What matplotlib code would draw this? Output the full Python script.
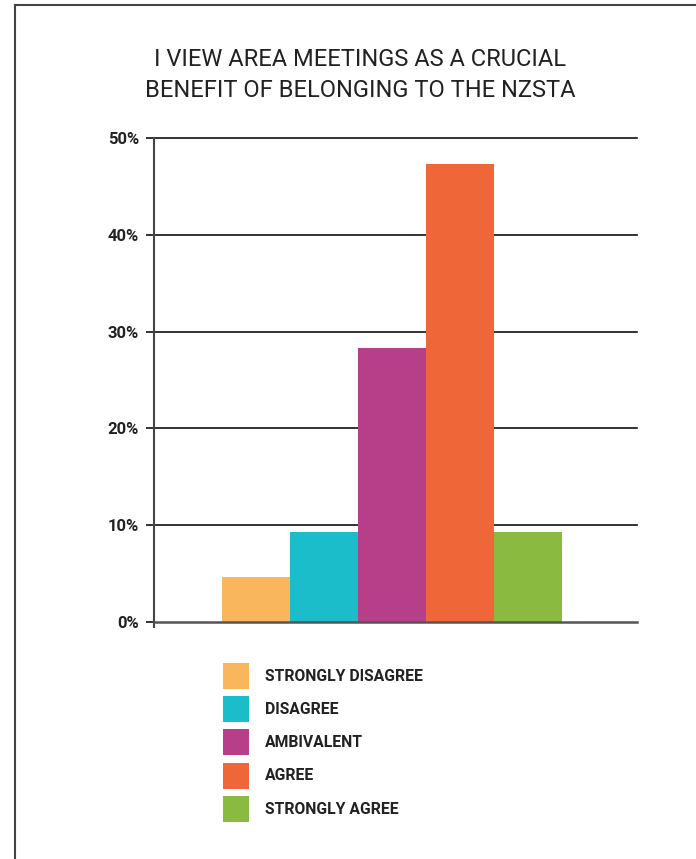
import matplotlib
matplotlib.use("Agg")
import matplotlib.pyplot as plt
from matplotlib.lines import Line2D
from matplotlib.ticker import FuncFormatter

categories = ["STRONGLY DISAGREE", "DISAGREE", "AMBIVALENT", "AGREE", "STRONGLY AGREE"]
values = [4.6, 9.3, 28.3, 47.3, 9.3]
colors = ["#F9B65D", "#1CBDCB", "#B73F8A", "#EF6738", "#8ABA3F"]
yticks = [0, 10, 20, 30, 40, 50]
title = "I VIEW AREA MEETINGS AS A CRUCIAL\nBENEFIT OF BELONGING TO THE NZSTA"

plt.rcParams['font.family'] = ['Roboto', 'DejaVu Sans']

fig = plt.figure(figsize=(6.96, 8.59), dpi=100)
ax = fig.add_axes([0.2217, 0.2695, 0.9148 - 0.2217, 0.839 - 0.2695])

xs = list(range(len(categories)))
bars = ax.bar(xs, values, width=1.0, color=colors, linewidth=0, zorder=3)

ax.set_xlim(-1.5, 5.6)
ax.set_ylim(-0.6, 50)

for t in yticks[1:]:
    ax.axhline(t, color="#111111", linewidth=1.2, zorder=2, clip_on=False)
ax.axhline(0, color="#555555", linewidth=1.8, zorder=4, clip_on=False)

for s in ["top", "right", "bottom"]:
    ax.spines[s].set_visible(False)
ax.spines["left"].set_color("#444444")
ax.spines["left"].set_linewidth(1.5)

ax.set_xticks([])
ax.set_yticks(yticks)
ax.yaxis.set_major_formatter(FuncFormatter(lambda v, p: f"{int(v)}%"))
ax.tick_params(axis="y", length=6, width=1.2, color="#111111", pad=5)
for lab in ax.get_yticklabels():
    lab.set_fontweight("bold")
    lab.set_fontsize(12)
    lab.set_color("#222222")

fig.text(0.517, 0.913, title, ha="center", va="center", fontsize=17,
         color="#222222", linespacing=1.45)

leg = fig.legend(bars.patches, categories, loc="upper left",
                 bbox_to_anchor=(222.7 / 696, 1 - 662.7 / 859),
                 frameon=False, borderpad=0, borderaxespad=0,
                 fontsize=11.3, handlelength=1.69, handleheight=2.17,
                 handletextpad=1.02, labelspacing=0.465)
for t in leg.get_texts():
    t.set_fontweight("bold")
    t.set_color("#222222")

# outer frame lines (left and top)
fig.add_artist(Line2D([15 / 696, 15 / 696], [0, 1 - 5 / 859], transform=fig.transFigure,
                      color="#444444", linewidth=1.5))
fig.add_artist(Line2D([15 / 696, 1], [1 - 5 / 859, 1 - 5 / 859], transform=fig.transFigure,
                      color="#444444", linewidth=1.5))

fig.savefig("out.png", dpi=100)
